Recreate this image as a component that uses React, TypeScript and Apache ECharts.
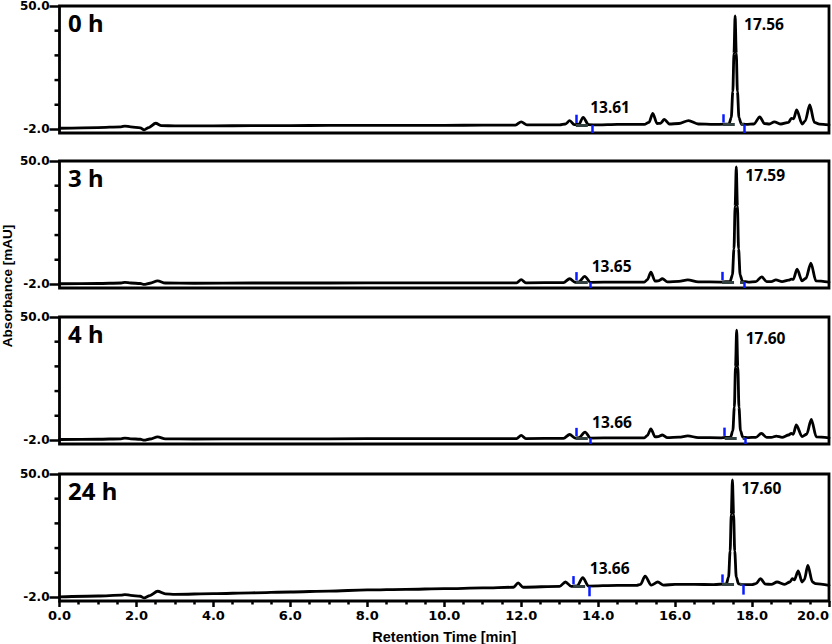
import React, { useEffect, useRef } from "react";
import * as echarts from "echarts";

const panelNames = ["0 h", "3 h", "4 h", "24 h"];

const trace0h: [number, number][] = [
  [0, -1.5], [1.0, -1.2], [1.6, -0.9], [1.7, -0.6], [1.85, -0.9], [2.1, -1.3], [2.2, -2.2], [2.32, -1.2],
  [2.5, 0.6], [2.65, -0.4], [3.0, -0.5], [4.0, -0.5], [5.0, -0.4], [6.0, -0.4], [7.0, -0.3], [8.0, -0.3],
  [9.0, -0.3], [10.0, -0.25], [11.0, -0.2], [11.85, -0.15], [12.0, 1.2], [12.15, -0.1], [13.0, -0.1],
  [13.15, 0.3], [13.26, 1.7], [13.38, 0.0], [13.5, 0.2], [13.61, 3.1], [13.75, 0.0], [14.0, -0.1],
  [14.5, 0.1], [15.2, 0.1], [15.32, 1.0], [15.42, 4.8], [15.53, 0.5], [15.62, 0.6], [15.72, 2.2],
  [15.85, 0.3], [16.1, 0.5], [16.35, 1.7], [16.6, 0.3], [17.0, 0.1], [17.3, 0.2], [17.4, 0.3],
  [17.46, 3], [17.5, 14], [17.53, 30], [17.56, 45.8], [17.59, 30], [17.62, 14], [17.66, 3], [17.72, 0.3],
  [17.85, 0.1], [18.05, 0.3], [18.2, 3.3], [18.32, 0.5], [18.45, 0.3], [18.58, 1.2], [18.75, 0.3],
  [18.95, 1.0], [19.02, 2.7], [19.08, 2.5], [19.16, 6.2], [19.3, 0.3], [19.38, 1.5], [19.5, 8.3],
  [19.62, 1.0], [19.75, 0.2], [20.0, -0.1],
];

const trace3h: [number, number][] = [
  [0, -1.7], [1.0, -1.6], [1.6, -1.4], [1.7, -1.1], [1.85, -1.4], [2.1, -1.6], [2.2, -2.0], [2.35, -1.5],
  [2.55, -0.5], [2.75, -1.4], [3.5, -1.5], [5, -1.4], [7, -1.4], [9, -1.3], [11, -1.3], [11.88, -1.3],
  [12.0, 0.0], [12.12, -1.3], [13.1, -1.2], [13.26, 0.4], [13.4, -1.1], [13.5, -0.9], [13.65, 1.4],
  [13.8, -1.1], [14.5, -1.0], [15.2, -1.0], [15.28, 0], [15.37, 3.2], [15.48, -0.6], [15.56, -0.5],
  [15.67, 0.4], [15.8, -0.9], [16.1, -0.7], [16.33, -0.1], [16.6, -0.9], [17.2, -1.0], [17.43, -0.7],
  [17.49, 2], [17.53, 13], [17.56, 31], [17.59, 47.5], [17.62, 31], [17.65, 13], [17.69, 2],
  [17.75, -0.7], [17.9, -1.0], [18.1, -0.8], [18.25, 1.2], [18.38, -0.8], [18.5, -0.8], [18.62, -0.1],
  [18.78, -0.8], [18.95, -0.2], [19.02, 0.2], [19.07, 0.1], [19.17, 4.4], [19.3, -0.5], [19.4, 0.6],
  [19.53, 7.0], [19.66, -0.5], [20.0, -1.0],
];

const trace4h: [number, number][] = [
  [0, -1.6], [1.0, -1.5], [1.6, -1.3], [1.7, -1.0], [1.85, -1.3], [2.1, -1.5], [2.2, -1.9], [2.35, -1.4],
  [2.55, -0.5], [2.75, -1.3], [3.5, -1.4], [5, -1.3], [7, -1.3], [9, -1.2], [11, -1.2], [11.88, -1.2],
  [12.0, 0.1], [12.12, -1.2], [13.1, -1.1], [13.26, 0.5], [13.4, -1.0], [13.5, -0.8], [13.66, 1.5],
  [13.8, -1.0], [14.5, -0.9], [15.2, -0.9], [15.28, 0.1], [15.37, 2.9], [15.48, -0.5], [15.56, -0.4],
  [15.67, 0.3], [15.8, -0.8], [16.1, -0.6], [16.33, -0.1], [16.6, -0.8], [17.2, -0.9], [17.44, -0.6],
  [17.5, 2], [17.54, 12], [17.57, 29], [17.6, 44.5], [17.63, 29], [17.66, 12], [17.7, 2], [17.76, -0.6],
  [17.9, -0.8], [18.1, -0.7], [18.24, 1.0], [18.38, -0.7], [18.5, -0.7], [18.63, -0.15], [18.78, -0.7],
  [18.95, 0.3], [19.02, 1.0], [19.07, 0.6], [19.15, 4.5], [19.3, -0.4], [19.42, 0.6], [19.54, 6.9],
  [19.67, -0.5], [20.0, -0.9],
];

const trace24h: [number, number][] = [
  [0, -1.8], [1.0, -1.4], [1.6, -1.0], [1.7, -0.8], [1.85, -1.1], [2.1, -1.5], [2.2, -2.2], [2.35, -1.2],
  [2.55, 0.6], [2.75, -0.5], [3.0, -0.7], [4.0, -0.4], [5.0, -0.05], [6.0, 0.3], [7.0, 0.7], [8.0, 1.15],
  [9.0, 1.4], [10.0, 1.7], [11.0, 2.0], [11.8, 2.3], [11.92, 4.1], [12.05, 2.3], [13.0, 2.7], [13.15, 4.5],
  [13.3, 2.7], [13.45, 2.9], [13.6, 6.3], [13.75, 2.8], [14.5, 3.1], [15.0, 3.1], [15.1, 3.5], [15.22, 7.0],
  [15.38, 3.2], [15.55, 4.5], [15.7, 3.2], [16.0, 3.5], [16.5, 3.5], [17.0, 3.4], [17.33, 3.7],
  [17.39, 6.5], [17.43, 17.5], [17.46, 33], [17.49, 47.5], [17.52, 33], [17.55, 17.5], [17.59, 6.5],
  [17.65, 3.7], [17.8, 3.4], [18.0, 3.4], [18.1, 3.8], [18.22, 5.9], [18.35, 3.6], [18.5, 3.5],
  [18.65, 4.5], [18.85, 3.5], [18.98, 4.5], [19.05, 5.9], [19.1, 5.4], [19.2, 9.2], [19.3, 4.5],
  [19.36, 5.5], [19.45, 11.5], [19.57, 4.5], [19.65, 3.8], [20.0, 3.1],
];

const traces = [trace0h, trace3h, trace4h, trace24h];

const peakLabels = [
  ["13.61", "17.56"],
  ["13.65", "17.59"],
  ["13.66", "17.60"],
  ["13.66", "17.60"],
];

const integrationStart = [
  [13.42, 17.24],
  [13.42, 17.22],
  [13.42, 17.29],
  [13.35, 17.22],
];
const integrationEnd = [
  [13.84, 17.79],
  [13.8, 17.8],
  [13.8, 17.82],
  [13.78, 17.78],
];
const integrationLevel = [
  [-0.1, 0.1],
  [-1.1, -1.0],
  [-1.0, -0.9],
  [2.7, 3.4],
];

// Absorbance axis: labelled ticks at -2.0 and 50.0, four unlabelled ticks between
const yLabelTicks = [-2, 50];
const yMinorTicks = [8.4, 18.8, 29.2, 39.6];
// the frame extends a little below the -2.0 tick
const Y_MIN = -3.5;
const Y_MAX = 50;

const X_MIN = 0;
const X_MAX = 20;
const X_INTERVAL = 2;

const GRID_TOPS = [6, 161, 317, 474];
const GRID_HEIGHT = 127;
const GRID_LEFT = 59.5;
const GRID_RIGHT = 3;

const BOLD_TICK = {
  color: "#000",
  fontFamily: "DejaVu Sans",
  fontWeight: "bold" as const,
};

function apexNear(trace: [number, number][], label: string): [number, number] {
  const t = parseFloat(label);
  let best: [number, number] = trace[0];
  let bestV = -Infinity;
  for (const p of trace) {
    if (Math.abs(p[0] - t) < 0.2 && p[1] > bestV) {
      bestV = p[1];
      best = p;
    }
  }
  return best;
}

export default function App() {
  const ref = useRef<HTMLDivElement>(null);

  useEffect(() => {
    if (!ref.current) return;
    const chart = echarts.init(ref.current, undefined, { renderer: "svg" });

    const grids: any[] = [];
    const xAxes: any[] = [];
    const yAxes: any[] = [];
    const series: any[] = [];
    const graphics: any[] = [];

    for (let i = 0; i < 4; i++) {
      const isLast = i === 3;
      grids.push({
        left: GRID_LEFT,
        right: GRID_RIGHT,
        top: GRID_TOPS[i],
        height: GRID_HEIGHT,
        show: true,
        borderColor: "#000",
        borderWidth: 2.8,
        backgroundColor: "transparent",
        containLabel: false,
        outerBoundsMode: "none",
      });
      xAxes.push({
        type: "value",
        gridIndex: i,
        position: "bottom",
        min: X_MIN,
        max: X_MAX,
        interval: X_INTERVAL,
        axisLine: { show: false, onZero: false },
        axisTick: { show: isLast, length: 6, lineStyle: { color: "#000", width: 2.5 } },
        minorTick: { show: isLast, splitNumber: 4, length: 3.5, lineStyle: { color: "#000", width: 2.5 } },
        axisLabel: {
          show: isLast,
          ...BOLD_TICK,
          fontSize: 13,
          margin: 8,
          hideOverlap: false,
          alignMaxLabel: "right",
          formatter: (v: number) => v.toFixed(1),
        },
        splitLine: { show: false },
        minorSplitLine: { show: false },
        name: isLast ? "Retention Time [min]" : "",
        nameLocation: "middle",
        nameGap: 28,
        nameTextStyle: {
          color: "#000",
          fontFamily: "Liberation Sans",
          fontWeight: "bold",
          fontSize: 14.5,
        },
      });
      yAxes.push({
        type: "value",
        gridIndex: i,
        position: "left",
        min: Y_MIN,
        max: Y_MAX,
        axisLine: { show: false, onZero: false },
        axisTick: { show: true, customValues: yLabelTicks, length: 10, lineStyle: { color: "#000", width: 2.5 } },
        axisLabel: {
          show: true,
          customValues: yLabelTicks,
          ...BOLD_TICK,
          fontSize: 12,
          margin: 10,
          formatter: (v: number) => v.toFixed(1),
        },
        splitLine: { show: false },
      });

      const markData: any[] = [];
      for (let k = 0; k < 2; k++) {
        const s = integrationStart[i][k];
        const e = integrationEnd[i][k];
        const b = integrationLevel[i][k];
        markData.push([
          { coord: [s, b], lineStyle: { color: "#334040", width: 3 } },
          { coord: [e, b] },
        ]);
        markData.push([
          { coord: [s, b + 0.8], lineStyle: { color: "#0a1cff", width: 2.5 } },
          { coord: [s, b + 4.3] },
        ]);
        markData.push([
          { coord: [e, b], lineStyle: { color: "#0a1cff", width: 2.5 } },
          { coord: [e, Math.max(b - 4.3, Y_MIN)] },
        ]);
      }

      series.push({
        type: "line",
        xAxisIndex: i,
        yAxisIndex: i,
        data: traces[i],
        showSymbol: false,
        symbol: "none",
        smooth: 0.3,
        smoothMonotone: "x",
        lineStyle: { color: "#000", width: 2.8, join: "round", cap: "round" },
        silent: true,
        z: 3,
      });
      series.push({
        type: "line",
        xAxisIndex: i,
        yAxisIndex: i,
        data: [],
        silent: true,
        z: 4,
        markLine: {
          silent: true,
          symbol: ["none", "none"],
          label: { show: false },
          data: markData,
        },
      });

      const labelData = peakLabels[i].map((lab, k) => {
        const p = apexNear(traces[i], lab);
        return {
          value: p,
          name: lab,
          label: {
            position: k === 0 ? [7, -10] : [9, 8],
          },
        };
      });
      series.push({
        type: "scatter",
        xAxisIndex: i,
        yAxisIndex: i,
        symbolSize: 0,
        silent: true,
        z: 5,
        data: labelData,
        label: {
          show: true,
          formatter: "{b}",
          align: "left",
          verticalAlign: "middle",
          color: "#000",
          opacity: 1,
          textBorderWidth: 0,
          fontFamily: "Noto Sans",
          fontWeight: "bold",
          fontSize: 15.5,
        },
      });

      graphics.push({
        id: `panel-name-${i}`,
        type: "text",
        left: GRID_LEFT + 8.5,
        top: GRID_TOPS[i] + 4,
        style: {
          text: panelNames[i],
          fill: "#000",
          font: "bold 24px 'Noto Sans'",
        },
      });
    }

    graphics.push({
      id: "y-title",
      type: "text",
      x: 7,
      y: 286,
      rotation: Math.PI / 2,
      style: {
        text: "Absorbance [mAU]",
        fill: "#000",
        font: "bold 13.5px 'Liberation Sans'",
        align: "center",
        verticalAlign: "middle",
      },
    });

    chart.setOption({
      animation: false,
      backgroundColor: "#fff",
      grid: grids,
      xAxis: xAxes,
      yAxis: yAxes,
      series,
    });

    // unlabelled y ticks, positioned through each panel's own axis scale
    for (let i = 0; i < 4; i++) {
      yMinorTicks.forEach((v, k) => {
        const pt = chart.convertToPixel({ xAxisIndex: i, yAxisIndex: i }, [X_MIN, v]) as number[];
        if (!pt) return;
        graphics.push({
          id: `ytick-${i}-${k}`,
          type: "line",
          z: 100,
          shape: { x1: pt[0] - 5, y1: pt[1], x2: pt[0], y2: pt[1] },
          style: { stroke: "#000", lineWidth: 2.5 },
        });
      });
    }

    chart.setOption({ graphic: graphics });

    return () => chart.dispose();
  }, []);

  return (
    <div
      ref={ref}
      style={{ position: "fixed", left: 0, top: 0, width: 832, height: 644 }}
    />
  );
}
